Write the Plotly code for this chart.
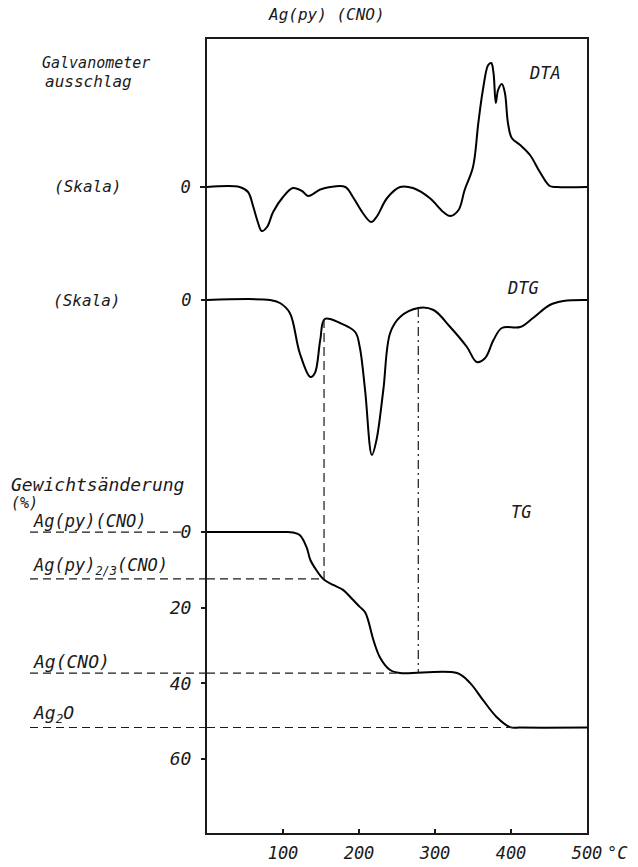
import plotly.graph_objects as go

# ---------------- data ----------------
dta_temp = [0, 43, 54, 61, 66, 72, 79, 87, 100, 113, 125, 133, 149, 162, 182, 192, 205, 216, 223, 237,
            254, 271, 293, 311, 320, 331, 339, 350, 357, 363, 370, 374, 377, 380, 383, 388, 392, 396, 401, 412,
            425, 438, 451, 460, 500]
dta_signal = [0, 0, -0.5, -2.0, -3.3, -4.4, -4.0, -2.5, -1.0, -0.1, -0.4, -0.9, -0.25, 0, 0, -1.0, -2.6, -3.5, -3.0, -1.1,
              0, -0.1, -1.1, -2.5, -2.9, -2.3, -0.3, 2.0, 6.4, 9.7, 12.2, 12.4, 11.4, 8.4, 9.7, 10.3, 9.4, 6.4, 4.9, 4.2,
              3.2, 1.5, 0.1, 0, 0]

dtg_temp = [0, 83, 96, 109, 122, 136, 142, 149, 155, 175, 195, 201, 208, 217, 223, 232, 241, 254, 278, 298,
            320, 342, 355, 366, 377, 388, 412, 429, 451, 469, 500]
dtg_signal = [0, 0, -0.3, -1.3, -5.3, -7.7, -7.3, -4.0, -1.9, -2.3, -3.2, -4.7, -9.0, -15.5, -14.0, -9.0, -3.3, -1.7, -0.8, -1.0,
              -2.7, -4.7, -6.2, -5.8, -4.0, -2.8, -2.7, -1.8, -0.5, -0.1, 0]

tg_temp = [0, 100, 113, 122, 131, 136, 144, 153, 166, 179, 190, 201, 208, 212, 219, 228, 241, 254, 329, 346,
           363, 381, 399, 412, 500]
tg_loss = [0, 0, 0.1, 0.8, 4.0, 7.4, 10.1, 12.4, 14.0, 15.3, 17.5, 19.8, 21.2, 23.3, 28.6, 33.3, 36.5, 37.3, 37.3, 39.9,
           44.4, 48.9, 51.6, 51.7, 51.7]

stage_labels = ["Ag(py)(CNO)", "Ag(py)<sub>2/3</sub>(CNO)", "Ag(CNO)", "Ag<sub>2</sub>O"]
stage_loss = [0, 12.4, 37.3, 51.7]
stage_end_temp = [None, 153, 250, 403]

marker_temp = [154, 278]
marker_dtg = [-1.9, -0.8]
marker_tg = [12.4, 37.3]

x_ticks = [100, 200, 300, 400, 500]
x_ticktext = ["100", "200", "300", "400", "500"]
tg_ticks = [0, 20, 40, 60]

# ---------------- axis ranges ----------------
DTA_RANGE = [-64.6, 14.8]
DTG_RANGE = [-53.3, 26.1]
TG_RANGE = [79.6, -130.4]


def dtg_to_tg(v):
    f = (v - DTG_RANGE[0]) / (DTG_RANGE[1] - DTG_RANGE[0])
    return TG_RANGE[0] + f * (TG_RANGE[1] - TG_RANGE[0])


# plot box in pixels: left 207, right 587, top 39, bottom 833
def pp(x, y):
    return (x - 207) / 380.0, (833 - y) / 794.0


INK = "#1a1a1a"
FONT = "DejaVu Sans Mono"

fig = go.Figure()
line_style = dict(color="black", width=2, shape="spline", smoothing=1.0)
fig.add_trace(go.Scatter(x=dta_temp, y=dta_signal, mode="lines", line=line_style, yaxis="y", hoverinfo="skip"))
fig.add_trace(go.Scatter(x=dtg_temp, y=dtg_signal, mode="lines", line=line_style, yaxis="y2", hoverinfo="skip"))
fig.add_trace(go.Scatter(x=tg_temp, y=tg_loss, mode="lines", line=line_style, yaxis="y3", hoverinfo="skip"))

shapes = []
dash = "8px,5px"
for lab, lv, te in zip(stage_labels, stage_loss, stage_end_temp):
    if te is None:
        x1 = pp(182, 0)[0]
        shapes.append(dict(type="line", xref="paper", yref="y3", x0=pp(30, 0)[0], x1=x1, y0=lv, y1=lv,
                           line=dict(color=INK, width=1.2, dash=dash)))
    else:
        shapes.append(dict(type="line", xref="paper", yref="y3", x0=pp(30, 0)[0], x1=0, y0=lv, y1=lv,
                           line=dict(color=INK, width=1.2, dash=dash)))
        shapes.append(dict(type="line", xref="x", yref="y3", x0=0, x1=te, y0=lv, y1=lv,
                           line=dict(color=INK, width=1.2, dash=dash)))

for i, (t, d, g) in enumerate(zip(marker_temp, marker_dtg, marker_tg)):
    shapes.append(dict(type="line", xref="x", yref="y3", x0=t, x1=t, y0=dtg_to_tg(d), y1=g,
                       line=dict(color=INK, width=1.2, dash="9px,5px" if i == 0 else "9px,4px,2px,4px")))

annotations = []


def add_text(text, x, y, size=17, xanchor="center"):
    px, py = pp(x, y)
    annotations.append(dict(text=text, x=px, y=py, xref="paper", yref="paper", xanchor=xanchor,
                            yanchor="middle", showarrow=False, font=dict(size=size, color=INK, family=FONT)))


add_text("Ag(py) (CNO)", 326, 15, 16)
add_text("Galvanometer", 40, 63, 15, "left")
add_text("ausschlag", 43, 81, 16, "left")
add_text("(Skala)", 87, 187, 16)
add_text("(Skala)", 86, 300, 16)
add_text("DTA", 545, 73, 17)
add_text("DTG", 523, 288, 17)
add_text("TG", 521, 512, 17)
add_text("Gewichtsänderung", 9, 484, 18, "left")
add_text("(%)", 9, 503, 15, "left")
add_text(stage_labels[0], 31, 521, 17, "left")
add_text(stage_labels[1], 31, 566, 17, "left")
add_text(stage_labels[2], 31, 661, 18, "left")
add_text(stage_labels[3], 31, 714, 18, "left")
add_text("°C", 605, 853, 17, "left")

fig.update_layout(
    width=638, height=867,
    margin=dict(l=207, r=51, t=39, b=34, autoexpand=False),
    paper_bgcolor="white", plot_bgcolor="white",
    showlegend=False,
    font=dict(family=FONT, size=17, color=INK, style="italic"),
    shapes=shapes, annotations=annotations,
    xaxis=dict(range=[0, 500], domain=[0, 1], tickvals=x_ticks, ticktext=x_ticktext,
               ticks="inside", ticklen=4, tickwidth=1.5, tickcolor=INK,
               showline=True, mirror=True, linecolor=INK, linewidth=1.8,
               showgrid=False, zeroline=False, ticklabelstandoff=4, automargin=False,
               tickfont=dict(size=17)),
    yaxis=dict(range=DTA_RANGE, domain=[0, 1], tickvals=[0], ticktext=["0"],
               ticks="outside", ticklen=5, tickwidth=1.5, tickcolor=INK,
               showline=True, mirror=True, linecolor=INK, linewidth=1.8, automargin=False,
               showgrid=False, zeroline=False, ticklabelstandoff=6, tickfont=dict(size=17)),
    yaxis2=dict(range=DTG_RANGE, overlaying="y", side="left", tickvals=[0], ticktext=["0"],
                ticks="outside", ticklen=5, tickwidth=1.5, tickcolor=INK, automargin=False,
                showline=False, showgrid=False, zeroline=False, ticklabelstandoff=6, tickfont=dict(size=17)),
    yaxis3=dict(range=TG_RANGE, overlaying="y", side="left", tickvals=tg_ticks,
                ticktext=[str(v) for v in tg_ticks], automargin=False,
                ticks="outside", ticklen=5, tickwidth=1.5, tickcolor=INK,
                showline=False, showgrid=False, zeroline=False, ticklabelstandoff=6, tickfont=dict(size=18)),
)

fig.write_html("out.html")
